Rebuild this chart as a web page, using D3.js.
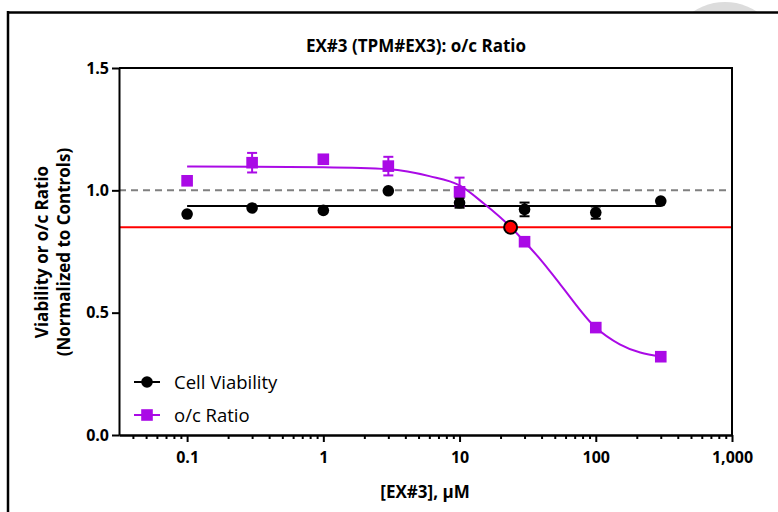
<!DOCTYPE html>
<html>
<head>
<meta charset="utf-8">
<script src="https://cdn.jsdelivr.net/npm/d3@7"></script>
<style>
  body { margin: 0; background: #fff; }
  svg { display: block; font-family: "Open Sans", sans-serif; }
</style>
</head>
<body>
<svg id="chart" width="778" height="512"></svg>
<script>
// Concentrations (uM)
var doses = [0.1, 0.3, 1, 3, 10, 30, 100, 300];

// Cell viability (black circles)
var viability = [0.903, 0.928, 0.918, 0.998, 0.949, 0.922, 0.909, 0.956];
var viabilityErr = [0, 0, 0, 0, 0.02, 0.028, 0.025, 0];
var viabilityFit = 0.936;

// o/c ratio (purple squares)
var ratio = [1.039, 1.113, 1.127, 1.099, 0.994, 0.790, 0.439, 0.320];
var ratioErr = [0, 0.04, 0.01, 0.038, 0.058, 0, 0, 0];

// fitted curve
var curveX = [0.1, 0.3, 1, 3, 6, 10, 15, 23.7, 30, 40, 55, 100, 150, 300];
var curveY = [1.097, 1.096, 1.094, 1.086, 1.058, 1.02, 0.947, 0.85, 0.79, 0.712, 0.615, 0.439, 0.37, 0.32];

// crossing point and threshold
var crossX = 23.7;
var threshold = 0.849;
var control = 1.0;

var xTicks = [0.1, 1, 10, 100, 1000];
var yTicks = [0, 0.5, 1.0, 1.5];

var purple = '#aa0ae6';

var svg = d3.select('#chart');

// background frame and grey blob
svg.append('circle').attr('cx', 725).attr('cy', 60).attr('r', 58).attr('fill', '#dcdcdc');
svg.append('rect').attr('x', 9).attr('y', 13).attr('width', 778).attr('height', 512).attr('fill', '#fff');
svg.append('line').attr('x1', 8).attr('x2', 778).attr('y1', 12.5).attr('y2', 12.5)
    .attr('stroke', '#000').attr('stroke-width', 2.5);
svg.append('line').attr('x1', 8).attr('x2', 8).attr('y1', 11).attr('y2', 512)
    .attr('stroke', '#000').attr('stroke-width', 2.5);

var x = d3.scaleLog()
    .domain([Math.pow(10, -1.5), 1000])
    .range([119, 732]);

var y = d3.scaleLinear()
    .domain([0, 1.5])
    .range([435, 68]);

// title
svg.append('text')
    .attr('x', 416).attr('y', 52)
    .attr('text-anchor', 'middle')
    .attr('font-size', '17px')
    .attr('font-weight', 'bold')
    .text('EX#3 (TPM#EX3): o/c Ratio');

// reference lines
svg.append('line')
    .attr('x1', x.range()[0]).attr('x2', x.range()[1])
    .attr('y1', y(control)).attr('y2', y(control))
    .attr('stroke', '#808080').attr('stroke-width', 2)
    .attr('stroke-dasharray', '7,5');

svg.append('line')
    .attr('x1', x.range()[0]).attr('x2', x.range()[1])
    .attr('y1', y(threshold)).attr('y2', y(threshold))
    .attr('stroke', '#ff0000').attr('stroke-width', 2);

// viability fit line
svg.append('line')
    .attr('x1', x(doses[0])).attr('x2', x(doses[doses.length - 1]))
    .attr('y1', y(viabilityFit)).attr('y2', y(viabilityFit))
    .attr('stroke', '#000').attr('stroke-width', 2);

// ratio fitted curve
var curveData = curveX.map((d, i) => [d, curveY[i]]);
svg.append('path')
    .datum(curveData)
    .attr('fill', 'none')
    .attr('stroke', purple)
    .attr('stroke-width', 2)
    .attr('d', d3.line().x(d => x(d[0])).y(d => y(d[1])).curve(d3.curveMonotoneX));

// error bars
function errorBars(vals, errs, color) {
    var g = svg.append('g').attr('stroke', color).attr('stroke-width', 2);
    doses.forEach((d, i) => {
        if (!errs[i]) return;
        var cx = x(d);
        var y1 = y(vals[i] + errs[i]);
        var y2 = y(vals[i] - errs[i]);
        g.append('line').attr('x1', cx).attr('x2', cx).attr('y1', y1).attr('y2', y2);
        g.append('line').attr('x1', cx - 5).attr('x2', cx + 5).attr('y1', y1).attr('y2', y1);
        g.append('line').attr('x1', cx - 5).attr('x2', cx + 5).attr('y1', y2).attr('y2', y2);
    });
}

errorBars(ratio, ratioErr, purple);
errorBars(viability, viabilityErr, '#000');

// viability points
svg.append('g')
    .selectAll('circle')
    .data(doses)
    .join('circle')
    .attr('cx', d => x(d))
    .attr('cy', (d, i) => y(viability[i]))
    .attr('r', 5.8)
    .attr('fill', '#000');

// ratio points
svg.append('g')
    .selectAll('rect')
    .data(doses)
    .join('rect')
    .attr('x', d => x(d) - 5.8)
    .attr('y', (d, i) => y(ratio[i]) - 5.8)
    .attr('width', 11.6)
    .attr('height', 11.6)
    .attr('fill', purple);

// crossing point
svg.append('circle')
    .attr('cx', x(crossX)).attr('cy', y(threshold))
    .attr('r', 6.5)
    .attr('fill', '#ff0000')
    .attr('stroke', '#000')
    .attr('stroke-width', 2);

// axes
var minorTicks = [];
for (var e = -2; e < 3; e++) {
    for (var m = 2; m < 10; m++) {
        var v = m * Math.pow(10, e);
        if (v > x.domain()[0] && v < 1000) minorTicks.push(v);
    }
}

var xAxis = svg.append('g')
    .attr('transform', `translate(0, ${y(0)})`)
    .call(d3.axisBottom(x).tickValues(xTicks).tickFormat(d3.format(',')).tickSize(7).tickSizeOuter(0).tickPadding(10));

svg.append('g')
    .attr('transform', `translate(0, ${y(0)})`)
    .call(d3.axisBottom(x).tickValues(minorTicks).tickFormat('').tickSize(4).tickSizeOuter(0));

var yAxis = svg.append('g')
    .attr('transform', `translate(${x.range()[0]}, 0)`)
    .call(d3.axisLeft(y).tickValues(yTicks).tickFormat(d3.format('.1f')).tickSize(7).tickSizeOuter(0).tickPadding(3));

svg.selectAll('.domain, .tick line').attr('stroke', '#000').attr('stroke-width', 2);
svg.selectAll('.tick text')
    .attr('font-size', '16px')
    .attr('font-weight', 'bold')
    .attr('fill', '#000')
    .attr('font-family', '"Open Sans", sans-serif');

// top and right border of plot
svg.append('path')
    .attr('d', `M${x.range()[0]},${y(1.5)}H${x.range()[1]}V${y(0)}`)
    .attr('fill', 'none')
    .attr('stroke', '#000')
    .attr('stroke-width', 2);

// axis titles
svg.append('text')
    .attr('x', 425).attr('y', 498)
    .attr('text-anchor', 'middle')
    .attr('font-size', '17px')
    .attr('font-weight', 'bold')
    .text('[EX#3], \u00b5M');

var yLabel = svg.append('text')
    .attr('transform', 'translate(48, 252) rotate(-90)')
    .attr('text-anchor', 'middle')
    .attr('font-size', '17px')
    .attr('font-weight', 'bold');
yLabel.append('tspan').attr('x', 0).attr('y', 0).text('Viability or o/c Ratio');
yLabel.append('tspan').attr('x', 0).attr('y', 22).text('(Normalized to Controls)');

// legend
var legend = svg.append('g');
legend.append('line').attr('x1', 134).attr('x2', 160).attr('y1', 382).attr('y2', 382)
    .attr('stroke', '#000').attr('stroke-width', 2);
legend.append('circle').attr('cx', 147).attr('cy', 382).attr('r', 5.8).attr('fill', '#000');
legend.append('text').attr('x', 174).attr('y', 388.5).attr('font-size', '18.5px').text('Cell Viability');

legend.append('line').attr('x1', 134).attr('x2', 160).attr('y1', 415).attr('y2', 415)
    .attr('stroke', purple).attr('stroke-width', 2);
legend.append('rect').attr('x', 141.2).attr('y', 409.2).attr('width', 11.6).attr('height', 11.6).attr('fill', purple);
legend.append('text').attr('x', 174).attr('y', 421.5).attr('font-size', '18.5px').text('o/c Ratio');
</script>
</body>
</html>
